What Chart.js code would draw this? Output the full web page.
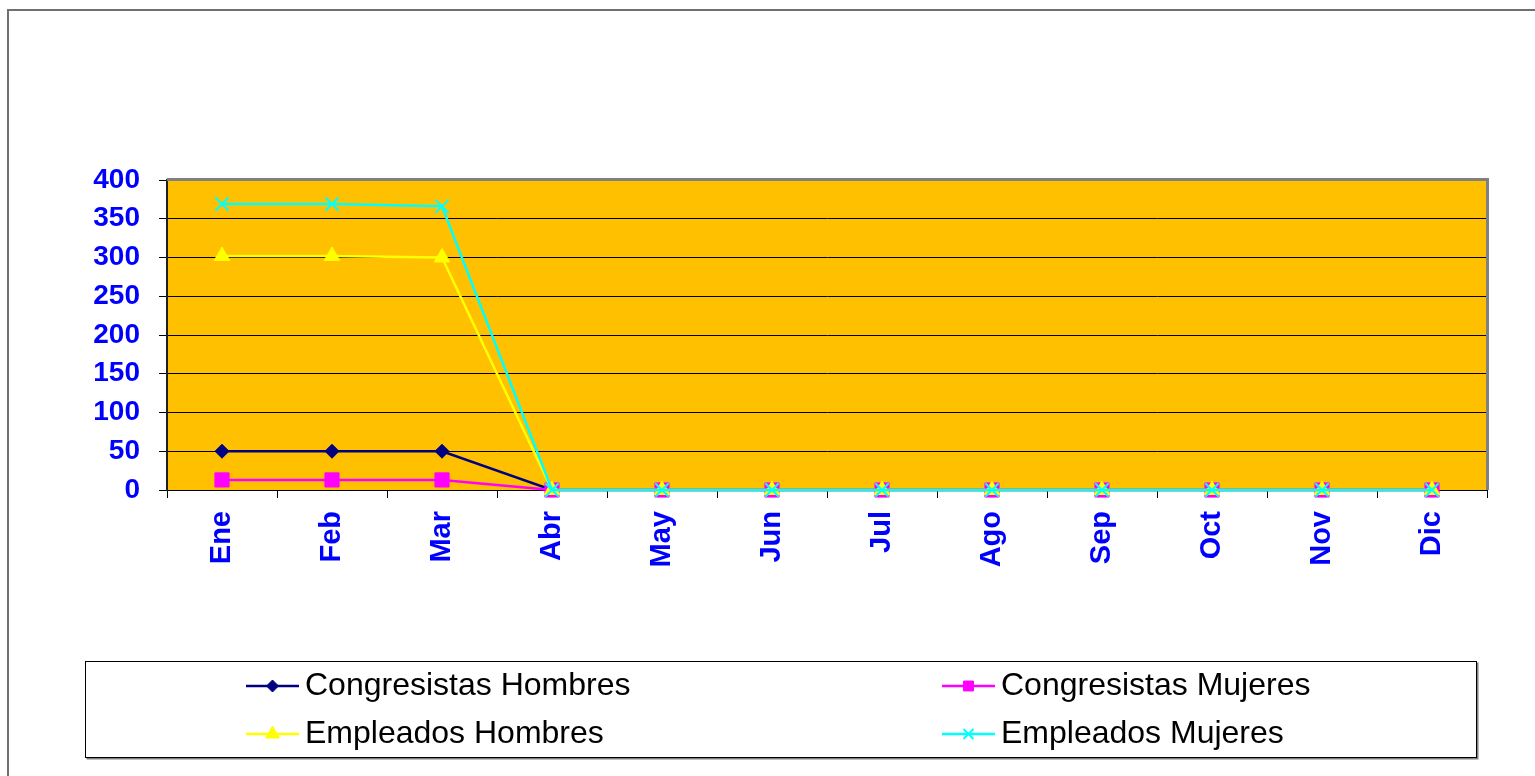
<!DOCTYPE html>
<html>
<head>
<meta charset="utf-8">
<script src="https://cdn.jsdelivr.net/npm/chart.js@4.4.0/dist/chart.umd.min.js"></script>
<style>
    html, body { margin: 0; padding: 0; background: #fff; }
    canvas { display: block; }
</style>
</head>
<body>
<canvas id="grafico" width="1535" height="776"></canvas>
<script>
'use strict';

const meses = ['Ene', 'Feb', 'Mar', 'Abr', 'May', 'Jun', 'Jul', 'Ago', 'Sep', 'Oct', 'Nov', 'Dic'];
const congresistasHombres = [50, 50, 50, 0, 0, 0, 0, 0, 0, 0, 0, 0];
const congresistasMujeres = [13, 13, 13, 0, 0, 0, 0, 0, 0, 0, 0, 0];
const empleadosHombres = [302, 302, 300, 0, 0, 0, 0, 0, 0, 0, 0, 0];
const empleadosMujeres = [369, 369, 366, 0, 0, 0, 0, 0, 0, 0, 0, 0];
const ticksY = [0, 50, 100, 150, 200, 250, 300, 350, 400];

const azul = '#0000ff';
const fuente = 'Arial, "Liberation Sans", sans-serif';

/*marco, fondo del área y leyenda*/
const decoracion = {
    id: 'decoracion',
    beforeDraw(chart) {
        const ctx = chart.ctx;
        const a = chart.chartArea;
        ctx.save();
        ctx.fillStyle = '#fff';
        ctx.fillRect(0, 0, chart.width, chart.height);
        ctx.strokeStyle = '#707070';
        ctx.lineWidth = 2;
        ctx.strokeRect(8, 10, chart.width + 10, chart.height + 10);
        ctx.fillStyle = '#ffc000';
        ctx.fillRect(a.left, a.top, a.right - a.left, a.bottom - a.top);
        ctx.restore();
    },
    beforeDatasetsDraw(chart) {
        const ctx = chart.ctx;
        const a = chart.chartArea;
        ctx.save();
        ctx.strokeStyle = '#808080';
        ctx.lineWidth = 3;
        ctx.beginPath();
        ctx.moveTo(a.left, a.top - 0.5);
        ctx.lineTo(a.right + 0.5, a.top - 0.5);
        ctx.lineTo(a.right + 0.5, a.bottom);
        ctx.stroke();
        ctx.restore();
    },
    afterDraw(chart) {
        const ctx = chart.ctx;
        const box = { x: 85.5, y: 661.5, w: 1391, h: 96 };
        ctx.save();
        ctx.strokeStyle = '#808080';
        ctx.lineWidth = 2;
        ctx.beginPath();
        ctx.moveTo(box.x + box.w + 1, box.y + 1);
        ctx.lineTo(box.x + box.w + 1, box.y + box.h + 1);
        ctx.lineTo(box.x + 1, box.y + box.h + 1);
        ctx.stroke();
        ctx.strokeStyle = '#000';
        ctx.lineWidth = 1;
        ctx.strokeRect(box.x, box.y, box.w, box.h);

        const columnas = [246, 942];
        const filas = [686, 734];
        const radios = [6, 7, 8, 7];
        chart.data.datasets.forEach(function(ds, i) {
            const x0 = columnas[i % 2];
            const y = filas[Math.floor(i / 2)];
            ctx.strokeStyle = ds.borderColor;
            ctx.fillStyle = ds.borderColor;
            ctx.lineWidth = 2.5;
            ctx.beginPath();
            ctx.moveTo(x0, y);
            ctx.lineTo(x0 + 53, y);
            ctx.stroke();
            ctx.lineWidth = ds.pointStyle === 'crossRot' ? 2 : 1;
            Chart.helpers.drawPoint(ctx, {
                pointStyle: ds.pointStyle,
                radius: radios[i],
                rotation: 0,
                borderWidth: ctx.lineWidth
            }, x0 + 26.5, y);
            ctx.fillStyle = '#000';
            ctx.font = '32px ' + fuente;
            ctx.textBaseline = 'middle';
            ctx.textAlign = 'left';
            ctx.fillText(ds.label, x0 + 59, y);
        });
        ctx.restore();
    }
};

function serie(etiqueta, datos, color, estilo, radio, orden) {
    return {
        label: etiqueta,
        data: datos,
        borderColor: color,
        backgroundColor: color,
        borderWidth: 2.5,
        pointStyle: estilo,
        pointRadius: radio,
        pointBorderColor: color,
        pointBackgroundColor: color,
        pointBorderWidth: estilo === 'crossRot' ? 2 : 1,
        tension: 0,
        clip: false,
        order: orden
    };
}

const ctx = document.getElementById('grafico').getContext('2d');
new Chart(ctx, {
    type: 'line',
    data: {
        labels: meses,
        datasets: [
            serie('Congresistas Hombres', congresistasHombres, '#000080', 'rectRot', 7, 3),
            serie('Congresistas Mujeres', congresistasMujeres, '#ff00ff', 'rect', 10, 2),
            serie('Empleados Hombres', empleadosHombres, '#ffff00', 'triangle', 9, 1),
            serie('Empleados Mujeres', empleadosMujeres, '#00ffff', 'crossRot', 9.5, 0)
        ]
    },
    options: {
        responsive: false,
        animation: false,
        layout: {
            padding: { left: 0, top: 180, right: 48, bottom: 0 }
        },
        plugins: {
            legend: { display: false },
            tooltip: { enabled: false }
        },
        scales: {
            x: {
                offset: true,
                grid: {
                    offset: true,
                    drawOnChartArea: false,
                    color: '#000',
                    tickLength: 8
                },
                border: { color: '#000', width: 1 },
                ticks: {
                    color: azul,
                    padding: 13,
                    minRotation: 90,
                    maxRotation: 90,
                    font: { family: fuente, size: 29, weight: 'bold' }
                },
                afterFit: function(scale) {
                    scale.height = 286;
                }
            },
            y: {
                min: 0,
                max: 400,
                afterBuildTicks: function(scale) {
                    scale.ticks = ticksY.map(function(v) { return { value: v }; });
                },
                grid: {
                    color: '#000',
                    tickLength: 8
                },
                border: { color: '#202020', width: 2 },
                ticks: {
                    color: azul,
                    padding: 19,
                    font: { family: fuente, size: 28, weight: 'bold' }
                },
                afterFit: function(scale) {
                    scale.width = 167;
                }
            }
        }
    },
    plugins: [decoracion]
});
</script>
</body>
</html>
